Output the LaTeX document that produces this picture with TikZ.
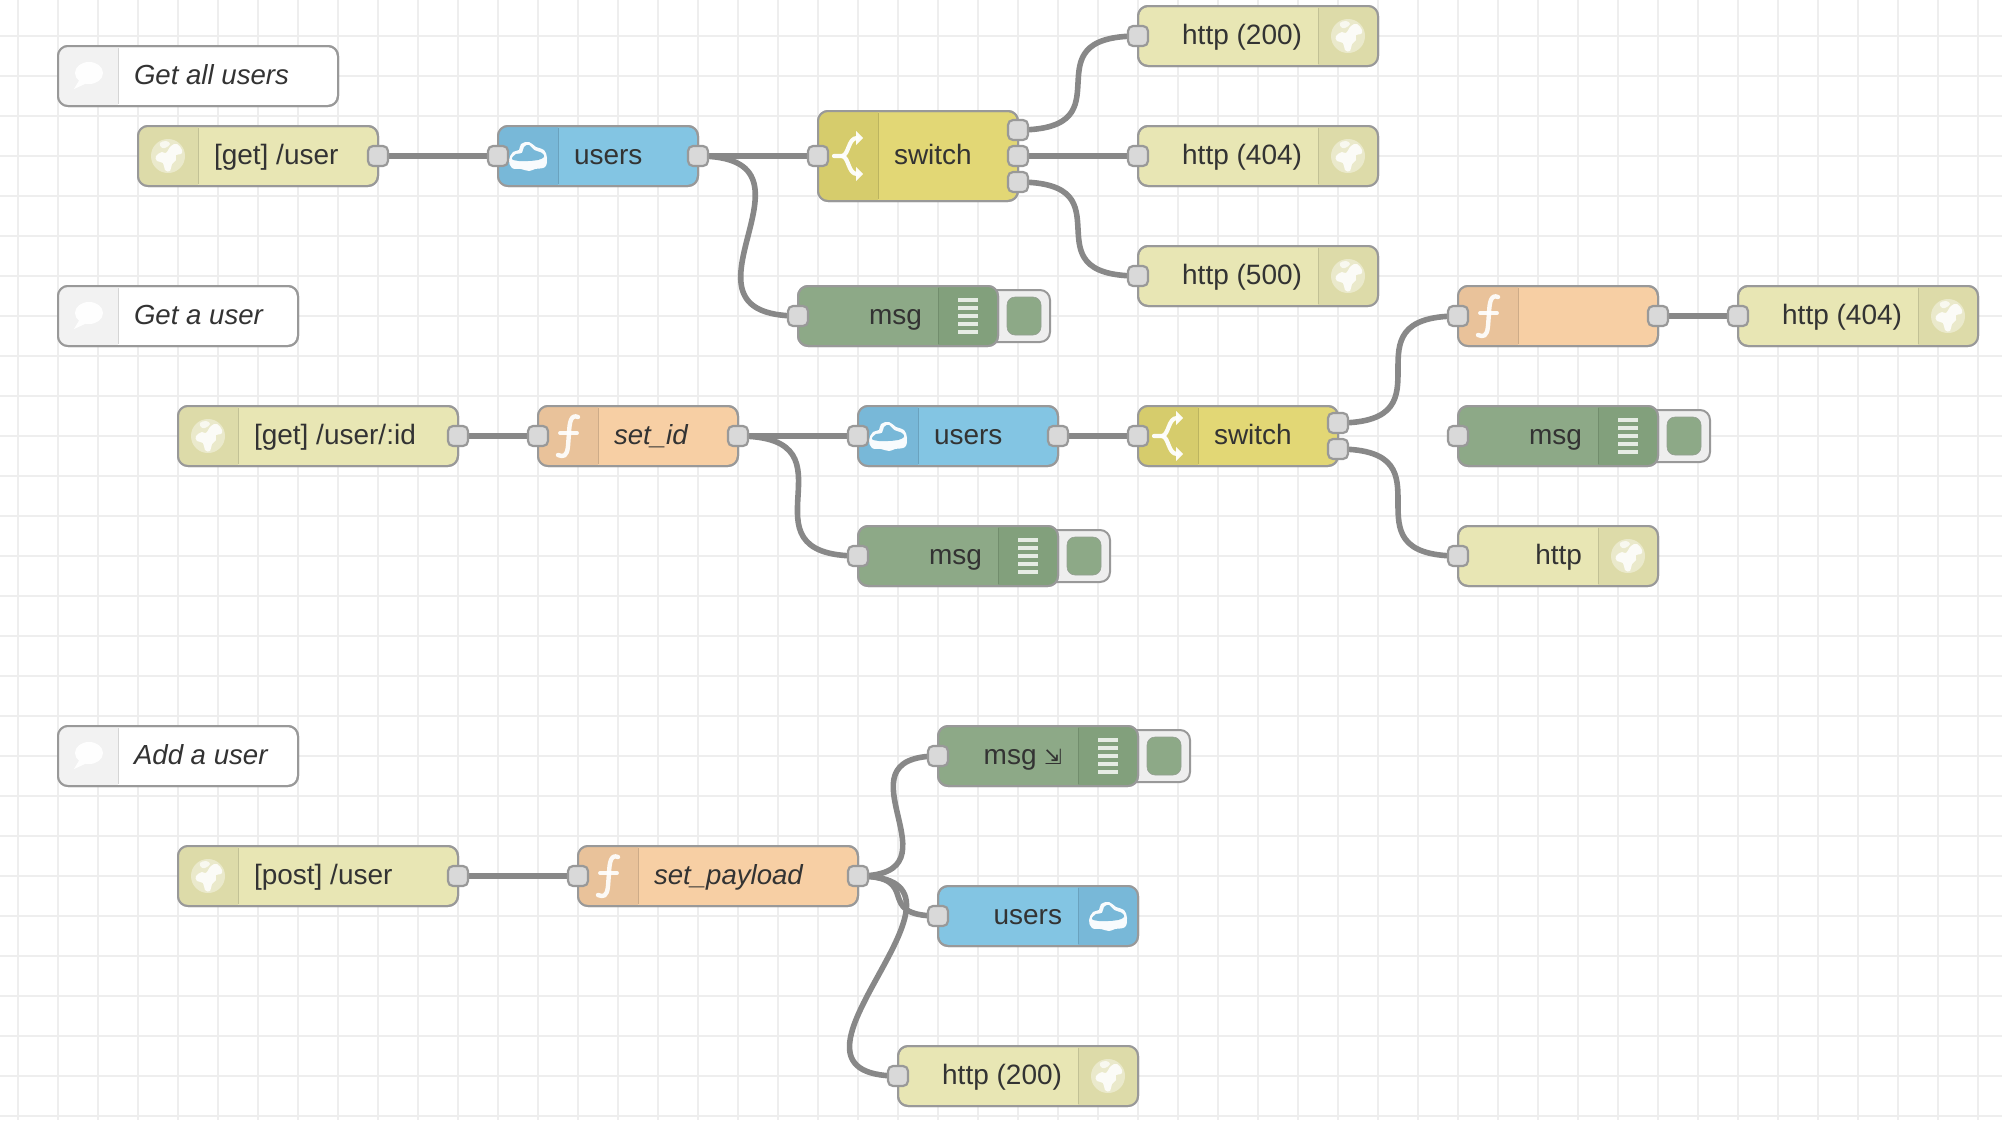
\documentclass[tikz,border=0pt]{standalone}
\usepackage{fontspec}
\setmainfont{Liberation Sans}
\newfontfamily\dvfont{DejaVu Sans}
\usetikzlibrary{calc}
\pgfdeclarelayer{under}
\pgfsetlayers{under,main}
\definecolor{gridc}{HTML}{EEEEEE}
\definecolor{wirec}{HTML}{888888}
\definecolor{edgec}{HTML}{999999}
\definecolor{portc}{HTML}{D9D9D9}
\definecolor{textc}{HTML}{333333}
\definecolor{injc}{HTML}{E8E6B4}\definecolor{injd}{HTML}{DDDBA9}
\definecolor{bluec}{HTML}{83C5E3}\definecolor{blued}{HTML}{78B8D8}
\definecolor{swc}{HTML}{E2D775}\definecolor{swd}{HTML}{D6CC6C}
\definecolor{fnc}{HTML}{F7CFA4}\definecolor{fnd}{HTML}{E9C29A}
\definecolor{dbc}{HTML}{8DA987}\definecolor{dbd}{HTML}{82A07C}
\definecolor{cmc}{HTML}{FFFFFF}\definecolor{cmd}{HTML}{F2F2F2}
\definecolor{btnc}{HTML}{EEEEEE}
\newcommand{\itl}{\fontsize{27.6}{33}\selectfont\itshape}
\tikzset{
  x=1pt,y=-1pt,
  box/.style={draw=edgec,line width=2pt,rounded corners=10pt,inner sep=0pt,outer sep=0pt},
  rim/.style={draw=edgec,line width=2pt,rounded corners=10pt},
  port/.style={draw=edgec,fill=portc,line width=2.2pt,rounded corners=5pt,minimum width=20pt,minimum height=20pt,inner sep=0pt,outer sep=0pt},
  wire/.style={draw=wirec,line width=5.6pt},
  gridline/.style={draw=gridc,line width=2pt},
  lab/.style={text=textc,font=\fontsize{28}{34}\selectfont,inner sep=0pt,outer sep=0pt},
  ico/.style={fill=white,draw=none},
  icoline/.style={draw=white,line cap=round,line join=round},
  globeicon/.pic={
    \fill[white,opacity=.4] (0,0) circle (17);
    \fill[white,opacity=.85] plot[smooth cycle,tension=.7] coordinates {(-12,0)(-6,-4)(-2,-3)(3,-10)(9,-12)(14,-6)(13,-2)(8,-1)(8,4)(4,8)(2,15)(-3,14)(-5,7)(-11,5)};
    \fill[white,opacity=.7] plot[smooth cycle,tension=.7] coordinates {(-8,-13)(-2,-15)(2,-12)(-3,-8)(-7,-9)};
  },
  cloudicon/.pic={
    \fill[white,opacity=.95] plot[smooth cycle,tension=.65] coordinates {(-19,4)(-15,-4)(-9,-6)(-7,-12)(1,-14)(8,-9)(16,-6)(19,2)(17,11)(7,13)(1,15)(-7,13)(-16,12)};
    \fill[blued] plot[smooth cycle,tension=.65] coordinates {(-16,3)(-12,-2)(-6,-3)(-4,-9)(1,-11)(6,-6)(14,-3)(16,1)(10,4)(0,5)(-9,5)};
  },
  switchicon/.pic={
    \draw[icoline,line width=4.2pt,opacity=.95] (-14,0) -- (-6,0) .. controls (1,-1) and (0,-18) .. (9,-18);
    \draw[icoline,line width=4.2pt,opacity=.95] (-6,0) .. controls (1,1) and (0,18) .. (9,18);
    \fill[ico,opacity=.95] (8,-25) -- (15,-18) -- (8,-11) -- cycle;
    \fill[ico,opacity=.95] (8,11) -- (15,18) -- (8,25) -- cycle;
  },
  fnicon/.pic={
    \draw[icoline,line width=4.4pt,opacity=.9] (10,-19) .. controls (3,-22) and (1.5,-14) .. (1,-3) -- (0,10) .. controls (-1,21) and (-5,21) .. (-10,19);
    \draw[icoline,line width=3.8pt,opacity=.9] (-8,-3) -- (9,-3);
  },
  bubbleicon/.pic={
    \fill[white,opacity=.95] (1,-3) ellipse (14 and 11);
    \fill[white,opacity=.95] (-8,3) -- (-14,13) -- (-1,7) -- cycle;
  },
  listicon/.pic={
    \foreach \q in {-16,-8,0,8,16} \draw[draw=white,opacity=.8,line width=3.6pt] (-10,\q) -- (10,\q);
  },
}
% #1 name, #2 left, #3 right, #4 centre y, #5 height, #6 colour, #7 section colour
\newcommand{\nrbox}[7]{%
  \node[box,fill=#6,minimum width={(#3)-(#2)},minimum height=#5] (#1) at ({((#2)+(#3))/2},#4) {};
}
\newcommand{\leftsec}[6]{% name,left,right,cy,h,dark
  \begin{scope}
    \clip[rounded corners=10pt] (#2,#4-#5/2) rectangle (#3,#4+#5/2);
    \fill[#6] (#2,#4-#5/2) rectangle (#2+60,#4+#5/2);
  \end{scope}
  \draw[draw=#6!88!black,line width=1pt] (#2+60,#4-#5/2+2) -- (#2+60,#4+#5/2-2);
  \draw[rim] (#1.north west) rectangle (#1.south east);
}
\newcommand{\rightsec}[6]{%
  \begin{scope}
    \clip[rounded corners=10pt] (#2,#4-#5/2) rectangle (#3,#4+#5/2);
    \fill[#6] (#3-60,#4-#5/2) rectangle (#3,#4+#5/2);
  \end{scope}
  \draw[draw=#6!88!black,line width=1pt] (#3-60,#4-#5/2+2) -- (#3-60,#4+#5/2-2);
  \draw[rim] (#1.north west) rectangle (#1.south east);
}
% icon on the left: name,left,right,cy,h,colour,dark,icon,text
\newcommand{\lnode}[9]{%
  \nrbox{#1}{#2}{#3}{#4}{#5}{#6}{#7}
  \leftsec{#1}{#2}{#3}{#4}{#5}{#7}
  \pic at (#2+30,#4) {#8};
  \node[lab,anchor=base west] (#1T) at (#2+76,#4+8) {#9};
}
\newcommand{\rnode}[9]{%
  \nrbox{#1}{#2}{#3}{#4}{#5}{#6}{#7}
  \rightsec{#1}{#2}{#3}{#4}{#5}{#7}
  \pic at (#3-30,#4) {#8};
  \node[lab,anchor=base east] (#1T) at (#3-76,#4+8) {#9};
}
\newcommand{\dbgbtn}[3]{% name(right edge),x,cy
  \draw[draw=edgec,fill=btnc,line width=2pt,rounded corners=10pt] (#2-20,#3-26) rectangle (#2+52,#3+26);
  \fill[dbc,draw=edgec!60!dbc,line width=.6pt,rounded corners=8pt] (#2+9,#3-19) rectangle (#2+43,#3+19);
}
\newcommand{\inport}[3]{\node[port] (#1I) at (#2,#3) {};}
\newcommand{\outport}[3]{\node[port] (#1O) at (#2,#3) {};}
\newcommand{\curve}[3]{\draw[wire] (#1.center) .. controls +(#3,0) and +(-#3,0) .. (#2.center);}
\begin{document}
\begin{tikzpicture}
\useasboundingbox (0,0) rectangle (2002,1120);
% --- Get all users
\lnode{c1}{58}{338}{76}{60}{cmc}{cmd}{bubbleicon}{\itl Get all users}
\lnode{g1}{138}{378}{156}{60}{injc}{injd}{globeicon}{[get] /user}
\outport{g1}{378}{156}
\lnode{u1}{498}{698}{156}{60}{bluec}{blued}{cloudicon}{users}
\inport{u1}{498}{156}\outport{u1}{698}{156}
\lnode{s1}{818}{1018}{156}{90}{swc}{swd}{switchicon}{switch}
\inport{s1}{818}{156}
\node[port] (s1Oa) at (1018,130) {};
\node[port] (s1Ob) at (1018,156) {};
\node[port] (s1Oc) at (1018,182) {};
\rnode{h1}{1138}{1378}{36}{60}{injc}{injd}{globeicon}{http (200)}\inport{h1}{1138}{36}
\rnode{h2}{1138}{1378}{156}{60}{injc}{injd}{globeicon}{http (404)}\inport{h2}{1138}{156}
\rnode{h3}{1138}{1378}{276}{60}{injc}{injd}{globeicon}{http (500)}\inport{h3}{1138}{276}
\dbgbtn{d1}{998}{316}
\rnode{d1}{798}{998}{316}{60}{dbc}{dbd}{listicon}{msg}\inport{d1}{798}{316}
% --- Get a user
\lnode{c2}{58}{298}{316}{60}{cmc}{cmd}{bubbleicon}{\itl Get a user}
\lnode{g2}{178}{458}{436}{60}{injc}{injd}{globeicon}{[get] /user/:id}
\outport{g2}{458}{436}
\lnode{f2}{538}{738}{436}{60}{fnc}{fnd}{fnicon}{\itl set\_id}
\inport{f2}{538}{436}\outport{f2}{738}{436}
\lnode{u2}{858}{1058}{436}{60}{bluec}{blued}{cloudicon}{users}
\inport{u2}{858}{436}\outport{u2}{1058}{436}
\lnode{s2}{1138}{1338}{436}{60}{swc}{swd}{switchicon}{switch}
\inport{s2}{1138}{436}
\node[port] (s2Oa) at (1338,423) {};
\node[port] (s2Ob) at (1338,449) {};
\dbgbtn{d2}{1058}{556}
\rnode{d2}{858}{1058}{556}{60}{dbc}{dbd}{listicon}{msg}\inport{d2}{858}{556}
\lnode{f3}{1458}{1658}{316}{60}{fnc}{fnd}{fnicon}{}
\inport{f3}{1458}{316}\outport{f3}{1658}{316}
\rnode{h4}{1738}{1978}{316}{60}{injc}{injd}{globeicon}{http (404)}\inport{h4}{1738}{316}
\dbgbtn{d3}{1658}{436}
\rnode{d3}{1458}{1658}{436}{60}{dbc}{dbd}{listicon}{msg}\inport{d3}{1458}{436}
\rnode{h5}{1458}{1658}{556}{60}{injc}{injd}{globeicon}{http}\inport{h5}{1458}{556}
% --- Add a user
\lnode{c3}{58}{298}{756}{60}{cmc}{cmd}{bubbleicon}{\itl Add a user}
\lnode{g3}{178}{458}{876}{60}{injc}{injd}{globeicon}{[post] /user}
\outport{g3}{458}{876}
\lnode{f4}{578}{858}{876}{60}{fnc}{fnd}{fnicon}{\itl set\_payload}
\inport{f4}{578}{876}\outport{f4}{858}{876}
\dbgbtn{d4}{1138}{756}
\rnode{d4}{938}{1138}{756}{60}{dbc}{dbd}{listicon}{msg {\dvfont\fontsize{21}{25}\selectfont ⇲}}\inport{d4}{938}{756}
\rnode{u4}{938}{1138}{916}{60}{bluec}{blued}{cloudicon}{users}\inport{u4}{938}{916}
\rnode{h6}{898}{1138}{1076}{60}{injc}{injd}{globeicon}{http (200)}\inport{h6}{898}{1076}
% --- under the nodes: canvas grid and wires
\begin{pgfonlayer}{under}
  \fill[white] (0,0) rectangle (2002,1120);
  \foreach \gx in {18,58,...,2002} \draw[gridline] (\gx.4,0) -- (\gx.4,1120);
  \foreach \gy in {36,76,...,1120} \draw[gridline] (0,\gy) -- (2002,\gy);
  \curve{g1O}{u1I}{0}
  \curve{u1O}{s1I}{0}
  \curve{u1O}{d1I}{141}
  \curve{s1Oa}{h1I}{115}
  \curve{s1Ob}{h2I}{0}
  \curve{s1Oc}{h3I}{115}
  \curve{g2O}{f2I}{0}
  \curve{f2O}{u2I}{0}
  \curve{f2O}{d2I}{127}
  \curve{u2O}{s2I}{0}
  \curve{s2Oa}{f3I}{120}
  \curve{s2Ob}{h5I}{120}
  \curve{f3O}{h4I}{0}
  \curve{g3O}{f4I}{0}
  \curve{f4O}{d4I}{108}
  \curve{f4O}{u4I}{67}
  \curve{f4O}{h6I}{150}
\end{pgfonlayer}
\end{tikzpicture}
\end{document}
